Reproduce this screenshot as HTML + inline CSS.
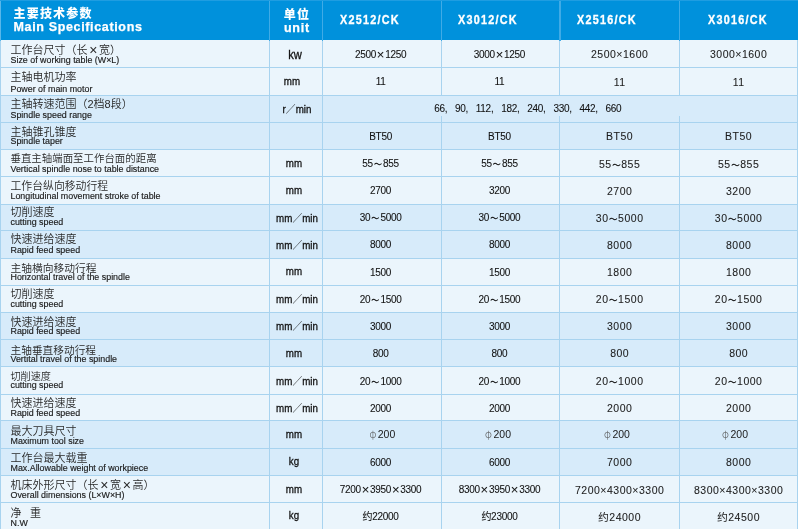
<!DOCTYPE html>
<html lang="zh"><head><meta charset="utf-8"><title>Main Specifications</title>
<style>
html,body{margin:0;padding:0;background:#fff;}
body{width:800px;height:529px;overflow:hidden;position:relative;font-family:"Liberation Sans","Noto Sans CJK SC",sans-serif;color:#222;}
#t{position:absolute;left:0;top:0;width:798px;height:529px;overflow:hidden;background:#ebf5fc;}
.r{position:absolute;left:0;width:798px;}
.hl{position:absolute;left:0;width:798px;height:1.2px;background:#a8d3ef;}
.vl{position:absolute;width:1.15px;background:#a8d3ef;}
.hv{position:absolute;width:1.3px;top:0;height:40.6px;background:#40abe6;}
.c{position:absolute;white-space:nowrap;}
.zh{font-size:11px;line-height:12px;left:10.5px;color:#2a2a2a;font-weight:350;}
.zh i{font-style:normal;display:inline-block;width:11.5px;text-align:center;font-size:14px;line-height:0;position:relative;top:0.8px;}
.zh b{display:inline-block;width:8.6px;}
.en{font-size:8.9px;line-height:10px;left:10.5px;color:#1a1a1a;-webkit-text-stroke:0.15px #1a1a1a;}
.u{font-size:10.5px;line-height:12px;text-align:center;color:#111;transform:scaleX(0.93);-webkit-text-stroke:0.3px #111;}
.u .sl{-webkit-text-stroke:0;}
.va{font-size:10px;line-height:12px;text-align:center;color:#111;letter-spacing:-0.3px;-webkit-text-stroke:0.08px #111;}
.va .x{display:inline-block;width:9.2px;text-align:center;font-size:13px;line-height:0;letter-spacing:0;position:relative;top:0.6px;}
.va .cm{display:inline-block;width:10.3px;text-align:left;letter-spacing:0;}
.vb{font-size:10.5px;line-height:12px;text-align:center;color:#1c1c1c;letter-spacing:0.5px;-webkit-text-stroke:0.08px #1c1c1c;}
.ph{font-size:10.5px;line-height:12px;color:#1a1a1a;}
.ph span{display:inline-block;width:8.4px;font-family:"Noto Sans CJK SC",sans-serif;font-weight:300;font-size:9.5px;color:#555;}
.t{display:inline-block;width:10.2px;text-align:center;letter-spacing:0;font-size:8px;-webkit-text-stroke:0.3px #111;}
.vb .t{width:9.6px;font-size:8.5px;}
.hd{position:absolute;left:0;top:0;width:798px;background:#0091dc;color:#fff;font-weight:bold;}
.ht{color:#fff;font-weight:bold;line-height:14px;}
.md{font-size:13.5px;letter-spacing:1.55px;transform:scaleX(0.8);transform-origin:0 0;-webkit-text-stroke:0.35px #fff;}
</style></head><body><div id="t">

<div class="hd" style="height:40.6px"></div>
<div class="r" style="top:40.40px;height:27.50px;background:#ebf5fc"></div>
<div class="r" style="top:67.40px;height:28.30px;background:#ebf5fc"></div>
<div class="r" style="top:95.20px;height:27.80px;background:#d7ebfa"></div>
<div class="r" style="top:122.50px;height:27.40px;background:#d7ebfa"></div>
<div class="r" style="top:149.40px;height:27.90px;background:#ebf5fc"></div>
<div class="r" style="top:176.80px;height:28.00px;background:#ebf5fc"></div>
<div class="r" style="top:204.30px;height:27.10px;background:#d7ebfa"></div>
<div class="r" style="top:230.90px;height:27.70px;background:#d7ebfa"></div>
<div class="r" style="top:258.10px;height:27.90px;background:#ebf5fc"></div>
<div class="r" style="top:285.50px;height:27.55px;background:#ebf5fc"></div>
<div class="r" style="top:312.55px;height:27.75px;background:#d7ebfa"></div>
<div class="r" style="top:339.80px;height:27.30px;background:#d7ebfa"></div>
<div class="r" style="top:366.60px;height:28.00px;background:#ebf5fc"></div>
<div class="r" style="top:394.10px;height:27.20px;background:#ebf5fc"></div>
<div class="r" style="top:420.80px;height:28.10px;background:#d7ebfa"></div>
<div class="r" style="top:448.40px;height:27.70px;background:#d7ebfa"></div>
<div class="r" style="top:475.60px;height:27.60px;background:#ebf5fc"></div>
<div class="r" style="top:502.70px;height:27.70px;background:#ebf5fc"></div>
<div class="hl" style="top:66.80px"></div>
<div class="hl" style="top:94.60px"></div>
<div class="hl" style="top:121.90px"></div>
<div class="hl" style="top:148.80px"></div>
<div class="hl" style="top:176.20px"></div>
<div class="hl" style="top:203.70px"></div>
<div class="hl" style="top:230.30px"></div>
<div class="hl" style="top:257.50px"></div>
<div class="hl" style="top:284.90px"></div>
<div class="hl" style="top:311.95px"></div>
<div class="hl" style="top:339.20px"></div>
<div class="hl" style="top:366.00px"></div>
<div class="hl" style="top:393.50px"></div>
<div class="hl" style="top:420.20px"></div>
<div class="hl" style="top:447.80px"></div>
<div class="hl" style="top:475.00px"></div>
<div class="hl" style="top:502.10px"></div>
<div class="hl" style="top:529.30px"></div>
<div class="vl" style="left:0;top:0;height:529px;"></div>
<div class="vl" style="left:269.00px;top:0;height:529px"></div>
<div class="vl" style="left:321.80px;top:0;height:529px"></div>
<div class="vl" style="left:440.65px;top:0;height:95.20px"></div>
<div class="vl" style="left:440.65px;top:115.50px;height:413.50px"></div>
<div class="vl" style="left:559.35px;top:0;height:95.20px"></div>
<div class="vl" style="left:559.35px;top:115.50px;height:413.50px"></div>
<div class="vl" style="left:678.65px;top:0;height:95.20px"></div>
<div class="vl" style="left:678.65px;top:115.50px;height:413.50px"></div>
<div class="hv" style="left:268.85px"></div>
<div class="hv" style="left:321.65px"></div>
<div class="hv" style="left:440.65px"></div>
<div class="hv" style="left:559.35px"></div>
<div class="hv" style="left:678.65px"></div>
<div class="hv" style="left:0;width:1px;background:#58b7ea"></div>
<div style="position:absolute;left:0;top:0;width:798px;height:1px;background:#1f9de1"></div>
<div class="vl" style="left:796.9px;top:40px;height:489px"></div>
<div class="c ht" style="left:13.5px;top:6.5px;font-size:12px;letter-spacing:1.2px;font-weight:900">主要技术参数</div>
<div class="c ht" style="left:13.5px;top:19.8px;font-size:12.5px;letter-spacing:0.65px;-webkit-text-stroke:0.25px #fff">Main Specifications</div>
<div class="c ht" style="left:270.5px;width:52.8px;top:7.6px;font-size:12px;text-align:center;letter-spacing:1.2px;font-weight:900">单位</div>
<div class="c ht" style="left:270.5px;width:52.8px;top:20.8px;font-size:12.5px;text-align:center;letter-spacing:0.7px;-webkit-text-stroke:0.25px #fff">unit</div>
<div class="c ht md" style="left:339.8px;top:12.6px;">X2512/CK</div>
<div class="c ht md" style="left:458.4px;top:12.6px;">X3012/CK</div>
<div class="c ht md" style="left:577.4px;top:12.6px;">X2516/CK</div>
<div class="c ht md" style="left:707.6px;top:12.6px;">X3016/CK</div>
<div class="c zh" style="top:44.00px">工作台尺寸（长<i>×</i>宽）</div>
<div class="c en" style="top:55.00px">Size of working table (W×L)</div>
<div class="c u" style="left:265.2px;width:60px;top:48.90px;font-size:12px;">kw</div>
<div class="c va" style="left:321.1px;width:119.0px;top:49.00px">2500<span class="x">×</span>1250</div>
<div class="c va" style="left:440.1px;width:118.7px;top:49.00px">3000<span class="x">×</span>1250</div>
<div class="c vb" style="left:560.0px;width:119.3px;top:48.00px">2500×1600</div>
<div class="c vb" style="left:679.3px;width:118.7px;top:48.00px">3000×1600</div>
<div class="c zh" style="top:71.00px">主轴电机功率</div>
<div class="c en" style="top:84.00px">Power of main motor</div>
<div class="c u" style="left:262.2px;width:60px;top:74.70px;">mm</div>
<div class="c va" style="left:321.1px;width:119.0px;top:76.00px">11</div>
<div class="c va" style="left:440.1px;width:118.7px;top:76.00px">11</div>
<div class="c vb" style="left:560.0px;width:119.3px;top:76.00px">11</div>
<div class="c vb" style="left:679.3px;width:118.7px;top:76.00px">11</div>
<div class="c zh" style="top:98.00px">主轴转速范围（2档8段）</div>
<div class="c en" style="top:110.00px">Spindle speed range</div>
<div class="c u" style="left:267.0px;width:60px;top:102.70px;">r<span class="sl">／</span>min</div>
<div class="c va" style="left:434.2px;top:103.00px;text-align:left">66<span class="cm">,</span>90<span class="cm">,</span>112<span class="cm">,</span>182<span class="cm">,</span>240<span class="cm">,</span>330<span class="cm">,</span>442<span class="cm">,</span>660</div>
<div class="c zh" style="top:126.00px">主轴锥孔锥度</div>
<div class="c en" style="top:136.00px">Spindle taper</div>
<div class="c va" style="left:321.1px;width:119.0px;top:131.00px">BT50</div>
<div class="c va" style="left:440.1px;width:118.7px;top:131.00px">BT50</div>
<div class="c vb" style="left:560.0px;width:119.3px;top:130.00px">BT50</div>
<div class="c vb" style="left:679.3px;width:118.7px;top:130.00px">BT50</div>
<div class="c zh" style="top:153.00px;font-size:10.45px">垂直主轴端面至工作台面的距离</div>
<div class="c en" style="top:164.00px">Vertical spindle nose to table distance</div>
<div class="c u" style="left:264.3px;width:60px;top:156.70px;">mm</div>
<div class="c va" style="left:321.1px;width:119.0px;top:158.00px">55<span class="t">～</span>855</div>
<div class="c va" style="left:440.1px;width:118.7px;top:158.00px">55<span class="t">～</span>855</div>
<div class="c vb" style="left:560.0px;width:119.3px;top:158.00px">55<span class="t">～</span>855</div>
<div class="c vb" style="left:679.3px;width:118.7px;top:158.00px">55<span class="t">～</span>855</div>
<div class="c zh" style="top:180.00px;font-size:10.85px">工作台纵向移动行程</div>
<div class="c en" style="top:191.00px">Longitudinal movement stroke of table</div>
<div class="c u" style="left:264.3px;width:60px;top:184.10px;">mm</div>
<div class="c va" style="left:321.1px;width:119.0px;top:185.00px">2700</div>
<div class="c va" style="left:440.1px;width:118.7px;top:185.00px">3200</div>
<div class="c vb" style="left:560.0px;width:119.3px;top:185.00px">2700</div>
<div class="c vb" style="left:679.3px;width:118.7px;top:185.00px">3200</div>
<div class="c zh" style="top:206.00px">切削速度</div>
<div class="c en" style="top:217.00px">cutting speed</div>
<div class="c u" style="left:266.5px;width:60px;top:212.20px;">mm<span class="sl">／</span>min</div>
<div class="c va" style="left:321.1px;width:119.0px;top:212.00px">30<span class="t">～</span>5000</div>
<div class="c va" style="left:440.1px;width:118.7px;top:212.00px">30<span class="t">～</span>5000</div>
<div class="c vb" style="left:560.0px;width:119.3px;top:212.00px">30<span class="t">～</span>5000</div>
<div class="c vb" style="left:679.3px;width:118.7px;top:212.00px">30<span class="t">～</span>5000</div>
<div class="c zh" style="top:233.00px">快速进给速度</div>
<div class="c en" style="top:245.00px">Rapid feed speed</div>
<div class="c u" style="left:266.5px;width:60px;top:238.80px;">mm<span class="sl">／</span>min</div>
<div class="c va" style="left:321.1px;width:119.0px;top:239.00px">8000</div>
<div class="c va" style="left:440.1px;width:118.7px;top:239.00px">8000</div>
<div class="c vb" style="left:560.0px;width:119.3px;top:239.00px">8000</div>
<div class="c vb" style="left:679.3px;width:118.7px;top:239.00px">8000</div>
<div class="c zh" style="top:262.00px;font-size:10.75px">主轴横向移动行程</div>
<div class="c en" style="top:272.00px">Horizontal travel of the spindle</div>
<div class="c u" style="left:264.3px;width:60px;top:265.40px;">mm</div>
<div class="c va" style="left:321.1px;width:119.0px;top:267.00px">1500</div>
<div class="c va" style="left:440.1px;width:118.7px;top:267.00px">1500</div>
<div class="c vb" style="left:560.0px;width:119.3px;top:266.00px">1800</div>
<div class="c vb" style="left:679.3px;width:118.7px;top:266.00px">1800</div>
<div class="c zh" style="top:288.00px">切削速度</div>
<div class="c en" style="top:299.00px">cutting speed</div>
<div class="c u" style="left:266.5px;width:60px;top:293.40px;">mm<span class="sl">／</span>min</div>
<div class="c va" style="left:321.1px;width:119.0px;top:294.00px">20<span class="t">～</span>1500</div>
<div class="c va" style="left:440.1px;width:118.7px;top:294.00px">20<span class="t">～</span>1500</div>
<div class="c vb" style="left:560.0px;width:119.3px;top:293.00px">20<span class="t">～</span>1500</div>
<div class="c vb" style="left:679.3px;width:118.7px;top:293.00px">20<span class="t">～</span>1500</div>
<div class="c zh" style="top:316.00px">快速进给速度</div>
<div class="c en" style="top:326.00px">Rapid feed speed</div>
<div class="c u" style="left:266.5px;width:60px;top:320.45px;">mm<span class="sl">／</span>min</div>
<div class="c va" style="left:321.1px;width:119.0px;top:321.00px">3000</div>
<div class="c va" style="left:440.1px;width:118.7px;top:321.00px">3000</div>
<div class="c vb" style="left:560.0px;width:119.3px;top:320.00px">3000</div>
<div class="c vb" style="left:679.3px;width:118.7px;top:320.00px">3000</div>
<div class="c zh" style="top:344.00px;font-size:10.70px">主轴垂直移动行程</div>
<div class="c en" style="top:354.00px">Vertital travel of the spindle</div>
<div class="c u" style="left:264.3px;width:60px;top:347.10px;">mm</div>
<div class="c va" style="left:321.1px;width:119.0px;top:348.00px">800</div>
<div class="c va" style="left:440.1px;width:118.7px;top:348.00px">800</div>
<div class="c vb" style="left:560.0px;width:119.3px;top:347.00px">800</div>
<div class="c vb" style="left:679.3px;width:118.7px;top:347.00px">800</div>
<div class="c zh" style="top:371.00px;font-size:10.10px">切削速度</div>
<div class="c en" style="top:380.00px">cutting speed</div>
<div class="c u" style="left:266.5px;width:60px;top:374.50px;">mm<span class="sl">／</span>min</div>
<div class="c va" style="left:321.1px;width:119.0px;top:376.00px">20<span class="t">～</span>1000</div>
<div class="c va" style="left:440.1px;width:118.7px;top:376.00px">20<span class="t">～</span>1000</div>
<div class="c vb" style="left:560.0px;width:119.3px;top:375.00px">20<span class="t">～</span>1000</div>
<div class="c vb" style="left:679.3px;width:118.7px;top:375.00px">20<span class="t">～</span>1000</div>
<div class="c zh" style="top:397.00px">快速进给速度</div>
<div class="c en" style="top:408.00px">Rapid feed speed</div>
<div class="c u" style="left:266.5px;width:60px;top:402.00px;">mm<span class="sl">／</span>min</div>
<div class="c va" style="left:321.1px;width:119.0px;top:403.00px">2000</div>
<div class="c va" style="left:440.1px;width:118.7px;top:403.00px">2000</div>
<div class="c vb" style="left:560.0px;width:119.3px;top:402.00px">2000</div>
<div class="c vb" style="left:679.3px;width:118.7px;top:402.00px">2000</div>
<div class="c zh" style="top:425.00px">最大刀具尺寸</div>
<div class="c en" style="top:436.00px">Maximum tool size</div>
<div class="c u" style="left:264.3px;width:60px;top:428.10px;">mm</div>
<div class="c ph" style="left:369.4px;top:428px"><span>φ</span>200</div>
<div class="c ph" style="left:485.1px;top:428px"><span>φ</span>200</div>
<div class="c ph" style="left:604.0px;top:428px"><span>φ</span>200</div>
<div class="c ph" style="left:722.1px;top:428px"><span>φ</span>200</div>
<div class="c zh" style="top:452.00px">工作台最大载重</div>
<div class="c en" style="top:463.00px">Max.Allowable weight of workpiece</div>
<div class="c u" style="left:264.3px;width:60px;top:454.90px;">kg</div>
<div class="c va" style="left:321.1px;width:119.0px;top:457.00px">6000</div>
<div class="c va" style="left:440.1px;width:118.7px;top:457.00px">6000</div>
<div class="c vb" style="left:560.0px;width:119.3px;top:456.00px">7000</div>
<div class="c vb" style="left:679.3px;width:118.7px;top:456.00px">8000</div>
<div class="c zh" style="top:479.00px">机床外形尺寸（长<i>×</i>宽<i>×</i>高）</div>
<div class="c en" style="top:490.00px">Overall dimensions (L×W×H)</div>
<div class="c u" style="left:264.3px;width:60px;top:482.90px;">mm</div>
<div class="c va" style="left:321.1px;width:119.0px;top:484.00px">7200<span class="x">×</span>3950<span class="x">×</span>3300</div>
<div class="c va" style="left:440.1px;width:118.7px;top:484.00px">8300<span class="x">×</span>3950<span class="x">×</span>3300</div>
<div class="c vb" style="left:560.0px;width:119.3px;top:484.00px">7200×4300×3300</div>
<div class="c vb" style="left:679.3px;width:118.7px;top:484.00px">8300×4300×3300</div>
<div class="c zh" style="top:507.00px">净<b></b>重</div>
<div class="c en" style="top:518.00px">N.W</div>
<div class="c u" style="left:264.3px;width:60px;top:509.20px;">kg</div>
<div class="c va" style="left:321.1px;width:119.0px;top:511.00px">约22000</div>
<div class="c va" style="left:440.1px;width:118.7px;top:511.00px">约23000</div>
<div class="c vb" style="left:560.0px;width:119.3px;top:511.00px">约24000</div>
<div class="c vb" style="left:679.3px;width:118.7px;top:511.00px">约24500</div>
</div></body></html>
